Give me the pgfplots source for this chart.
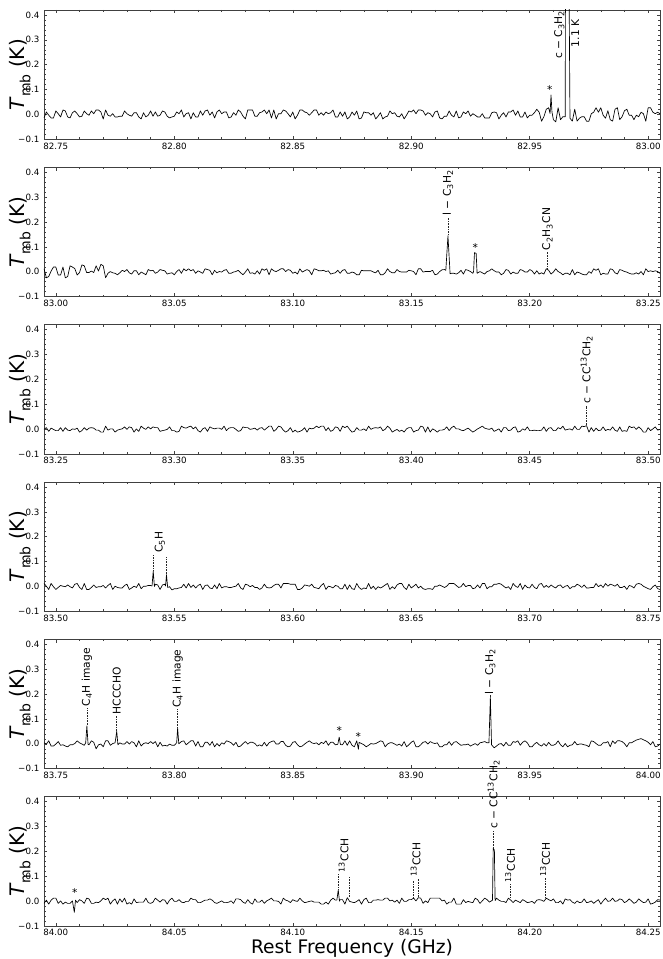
\documentclass[border=0pt]{standalone}
\usepackage{fontspec}
\setmainfont{DejaVu Sans}
\usepackage{pgfplots}
\pgfplotsset{compat=1.18}
\newcommand\lab{\fontsize{8}{9.6}\selectfont}
\tikzset{
  lbl/.style={rotate=90, anchor=west, inner sep=0pt, font=\lab},
  st/.style={inner sep=0pt, anchor=center, font=\lab},
  dl/.style={black!85, line width=0.4pt, dash pattern=on 0.5pt off 0.7pt},
}
\pgfplotsset{
  spec/.style={
    scale only axis, width=462pt, height=97pt, anchor=south west,
    ymin=-0.1, ymax=0.42,
    ytick={-0.1,0,0.1,0.2,0.3,0.4},
    yticklabels={−0.1,0.0,0.1,0.2,0.3,0.4},
    minor x tick num=4, minor y tick num=4,
    tick align=inside, tick pos=both,
    xticklabel pos=lower, yticklabel pos=left,
    major tick length=2.6pt, minor tick length=1.5pt,
    axis line style={black!75, line width=0.6pt},
    every tick/.style={black!75, line width=0.4pt},
    tick label style={font=\fontsize{6.5}{7.5}\selectfont},
    xticklabel style={yshift=1pt, /pgf/number format/.cd, fixed, fixed zerofill, precision=2, assume math mode=true},
    ylabel={\textit{T}\raisebox{-0.28em}{\fontsize{10.5}{12}\selectfont mb} (K)},
    every axis y label/.style={at={(axis description cs:-0.039,0.5)}, rotate=90, anchor=center, font=\fontsize{15}{18}\selectfont},
    clip mode=individual,
  },
  specline/.style={black, line width=0.5pt, line join=round},
}
\begin{document}
\begin{tikzpicture}
\useasboundingbox (-33pt,-614.75pt) rectangle (464.25pt,104.5pt);

% panel 1
\begin{axis}[spec, at={(0,0)}, xmin=82.745, xmax=83.005, xtick={82.75,82.80,82.85,82.90,82.95,83.00}]
\addplot[specline] coordinates {
(82.745,-0.014)(82.746,0.010)(82.747,-0.003)(82.748,-0.014)(82.749,-0.014)(82.750,0.014)(82.751,0.003)(82.752,-0.010)(82.753,0.018)(82.754,0.014)
(82.755,-0.010)(82.756,-0.014)(82.757,0.007)(82.758,0.014)(82.759,0.003)(82.760,-0.010)(82.761,-0.007)(82.762,0.014)(82.763,0.003)(82.764,-0.003)
(82.765,0.014)(82.766,0.003)(82.767,0.018)(82.768,0.018)(82.769,0.010)(82.770,-0.018)(82.771,0.018)(82.772,-0.003)(82.773,-0.007)(82.774,0.003)
(82.775,-0.010)(82.776,-0.010)(82.777,-0.007)(82.778,-0.007)(82.779,0.014)(82.780,0.003)(82.781,-0.003)(82.782,-0.007)(82.783,0.007)(82.784,0.007)
(82.785,-0.010)(82.786,-0.018)(82.787,0.007)(82.788,-0.010)(82.789,-0.003)(82.790,0.014)(82.791,-0.007)(82.792,0.010)(82.793,-0.007)(82.794,-0.003)
(82.795,0.014)(82.796,0.010)(82.797,-0.007)(82.798,-0.014)(82.799,-0.010)(82.800,-0.007)(82.801,0.010)(82.802,0.003)(82.803,0.018)(82.804,-0.010)
(82.805,0.003)(82.806,0.007)(82.807,-0.018)(82.808,0.007)(82.809,-0.010)(82.810,-0.010)(82.811,0.014)(82.812,-0.003)(82.813,0.014)(82.814,0.018)
(82.815,-0.003)(82.816,0.010)(82.817,-0.014)(82.818,0.010)(82.819,0.018)(82.820,0.003)(82.821,0.010)(82.822,0.010)(82.823,-0.014)(82.824,-0.010)
(82.825,0.007)(82.826,-0.003)(82.827,0.018)(82.828,0.010)(82.829,-0.007)(82.830,-0.018)(82.831,0.018)(82.832,0.018)(82.833,0.018)(82.834,-0.007)
(82.835,-0.007)(82.836,0.007)(82.837,0.010)(82.838,0.018)(82.839,0.003)(82.840,0.018)(82.841,-0.014)(82.842,0.018)(82.843,-0.018)(82.844,0.003)
(82.845,0.003)(82.846,0.018)(82.847,0.014)(82.848,0.003)(82.849,-0.010)(82.850,0.010)(82.851,-0.018)(82.852,-0.003)(82.853,0.018)(82.854,0.018)
(82.855,0.010)(82.856,0.007)(82.857,-0.003)(82.858,0.007)(82.859,0.018)(82.860,0.018)(82.861,-0.003)(82.862,0.007)(82.863,-0.003)(82.864,0.010)
(82.865,0.003)(82.866,0.007)(82.867,0.018)(82.868,-0.010)(82.869,-0.010)(82.870,0.010)(82.871,-0.007)(82.872,0.010)(82.873,-0.018)(82.874,-0.010)
(82.875,0.010)(82.876,-0.003)(82.877,0.014)(82.878,-0.018)(82.879,-0.014)(82.880,0.010)(82.881,0.007)(82.882,0.007)(82.883,-0.003)(82.884,0.007)
(82.885,-0.018)(82.886,-0.007)(82.887,0.007)(82.888,-0.018)(82.889,-0.010)(82.890,-0.007)(82.891,0.014)(82.892,0.003)(82.893,0.007)(82.894,-0.007)
(82.895,-0.010)(82.896,0.003)(82.897,-0.018)(82.898,-0.003)(82.899,0.014)(82.900,0.010)(82.901,0.018)(82.902,0.003)(82.903,0.018)(82.904,0.018)
(82.905,0.014)(82.906,-0.003)(82.907,0.007)(82.908,0.003)(82.909,-0.010)(82.910,0.010)(82.911,0.014)(82.912,-0.014)(82.913,-0.018)(82.914,-0.007)
(82.915,-0.007)(82.916,0.014)(82.917,-0.003)(82.918,-0.010)(82.919,0.014)(82.920,-0.014)(82.921,-0.010)(82.922,0.010)(82.923,0.003)(82.924,0.014)
(82.925,-0.007)(82.926,0.003)(82.927,-0.003)(82.928,-0.010)(82.929,-0.010)(82.930,0.003)(82.931,-0.014)(82.932,-0.014)(82.933,-0.014)(82.934,0.007)
(82.935,0.010)(82.936,0.007)(82.937,-0.018)(82.938,-0.003)(82.939,0.007)(82.940,-0.010)(82.941,0.010)(82.942,0.010)(82.943,0.018)(82.944,-0.003)
(82.945,0.014)(82.946,-0.010)(82.947,-0.010)(82.948,0.010)(82.949,-0.014)(82.950,-0.003)(82.951,-0.003)(82.952,0.007)(82.953,0.021)(82.954,0.009)
(82.955,-0.027)(82.956,-0.009)(82.957,0.021)(82.958,0.027)(82.9586,0.004)(82.959,0.078)(82.9594,0.010)(82.960,-0.021)(82.961,-0.030)(82.962,0.027)
(82.963,-0.021)(82.964,-0.009)(82.965,-0.009)(82.9652,1.1)(82.9662,1.1)(82.967,-0.015)(82.968,-0.027)(82.969,0.021)(82.970,-0.027)(82.971,-0.015)
(82.972,-0.009)(82.973,-0.009)(82.974,-0.027)(82.975,-0.027)(82.976,0.003)(82.977,0.009)(82.978,0.027)(82.979,0.009)(82.980,0.027)(82.981,-0.003)
(82.982,-0.015)(82.983,0.015)(82.984,-0.021)(82.985,-0.027)(82.986,0.021)(82.987,0.027)(82.988,-0.021)(82.989,-0.009)(82.990,0.015)(82.991,0.021)
(82.992,-0.003)(82.993,-0.003)(82.994,-0.021)(82.995,-0.003)(82.996,-0.009)(82.997,0.009)(82.998,0.003)(82.999,-0.027)(83.000,0.027)(83.001,0.027)
(83.002,0.009)(83.003,0.003)(83.004,0.009)(83.005,0.003)
};
\node[st] at (axis cs:82.9585,0.10) {*};
\node[lbl] at (axis cs:82.9625,0.222) {c − C\textsubscript{3}H\textsubscript{2}};
\node[lbl] at (axis cs:82.9692,0.270) {1.1 K};
\end{axis}

% panel 2
\begin{axis}[spec, at={(0,-118pt)}, xmin=82.995, xmax=83.255, xtick={83.00,83.05,83.10,83.15,83.20,83.25}]
\addplot[specline] coordinates {
(82.995,0.013)(82.996,-0.024)(82.997,-0.019)(82.998,0.003)(82.999,0.019)(83.000,0.019)(83.001,-0.013)(83.002,-0.013)(83.003,0.019)(83.004,-0.024)
(83.005,-0.019)(83.006,0.024)(83.007,0.019)(83.008,0.013)(83.009,-0.013)(83.010,-0.003)(83.011,0.028)(83.012,0.024)(83.013,-0.003)(83.014,-0.003)
(83.015,0.003)(83.016,-0.003)(83.017,0.024)(83.018,0.003)(83.019,0.030)(83.020,0.024)(83.021,-0.024)(83.022,-0.006)(83.023,0.001)(83.024,-0.004)
(83.025,-0.006)(83.026,-0.012)(83.027,-0.004)(83.028,0.006)(83.029,0.001)(83.030,0.009)(83.031,-0.004)(83.032,-0.009)(83.033,0.004)(83.034,0.004)
(83.035,-0.012)(83.036,-0.001)(83.037,-0.006)(83.038,-0.012)(83.039,0.009)(83.040,0.004)(83.041,0.006)(83.042,-0.006)(83.043,-0.001)(83.044,0.009)
(83.045,0.006)(83.046,0.004)(83.047,-0.009)(83.048,-0.006)(83.049,-0.004)(83.050,-0.012)(83.051,0.001)(83.052,0.009)(83.053,-0.006)(83.054,0.012)
(83.055,0.004)(83.056,0.012)(83.057,0.004)(83.058,0.009)(83.059,-0.006)(83.060,0.004)(83.061,-0.001)(83.062,-0.006)(83.063,0.012)(83.064,0.009)
(83.065,0.006)(83.066,-0.012)(83.067,0.006)(83.068,-0.004)(83.069,0.001)(83.070,-0.001)(83.071,0.006)(83.072,0.009)(83.073,-0.006)(83.074,-0.006)
(83.075,-0.001)(83.076,0.001)(83.077,0.006)(83.078,-0.004)(83.079,-0.012)(83.080,-0.001)(83.081,0.012)(83.082,-0.006)(83.083,-0.004)(83.084,-0.009)
(83.085,0.004)(83.086,-0.009)(83.087,0.012)(83.088,0.006)(83.089,0.012)(83.090,-0.012)(83.091,0.012)(83.092,0.004)(83.093,0.001)(83.094,0.006)
(83.095,0.012)(83.096,0.012)(83.097,0.001)(83.098,0.009)(83.099,0.006)(83.100,-0.006)(83.101,-0.001)(83.102,-0.009)(83.103,0.012)(83.104,-0.001)
(83.105,0.004)(83.106,0.009)(83.107,0.004)(83.108,-0.012)(83.109,0.012)(83.110,0.009)(83.111,0.004)(83.112,0.004)(83.113,0.006)(83.114,0.001)
(83.115,0.004)(83.116,-0.009)(83.117,-0.006)(83.118,-0.004)(83.119,0.006)(83.120,-0.006)(83.121,0.006)(83.122,0.009)(83.123,-0.006)(83.124,-0.006)
(83.125,-0.001)(83.126,-0.004)(83.127,-0.012)(83.128,-0.012)(83.129,0.006)(83.130,0.004)(83.131,0.004)(83.132,0.004)(83.133,0.004)(83.134,-0.001)
(83.135,-0.004)(83.136,0.006)(83.137,-0.012)(83.138,-0.012)(83.139,-0.004)(83.140,0.012)(83.141,0.001)(83.142,-0.004)(83.143,-0.004)(83.144,0.009)
(83.145,0.001)(83.146,-0.001)(83.147,-0.001)(83.148,-0.001)(83.149,0.006)(83.150,0.004)(83.151,0.001)(83.152,-0.012)(83.153,0.012)(83.154,0.012)
(83.155,-0.001)(83.156,0.001)(83.157,0.001)(83.158,0.001)(83.159,0.006)(83.160,-0.012)(83.161,-0.009)(83.162,0.001)(83.163,0.008)(83.164,0.009)
(83.1646,0.006)(83.1655,0.145)(83.1664,-0.008)(83.167,-0.006)(83.168,-0.006)(83.169,-0.009)(83.170,-0.004)(83.171,0.006)(83.172,-0.009)(83.173,0.009)
(83.174,0.006)(83.175,0.001)(83.176,-0.006)(83.1763,0.000)(83.1767,0.077)(83.1774,0.074)(83.1778,-0.006)(83.179,0.001)(83.180,-0.004)(83.181,-0.009)
(83.182,0.001)(83.183,0.004)(83.184,0.012)(83.185,0.004)(83.186,-0.001)(83.187,-0.001)(83.188,-0.012)(83.189,-0.006)(83.190,0.009)(83.191,0.006)
(83.192,-0.009)(83.193,-0.001)(83.194,-0.006)(83.195,-0.006)(83.196,0.009)(83.197,0.006)(83.198,-0.001)(83.199,-0.001)(83.200,0.009)(83.201,0.004)
(83.202,-0.009)(83.203,0.004)(83.204,-0.009)(83.205,-0.004)(83.206,-0.009)(83.207,0.012)(83.208,0.006)(83.209,-0.009)(83.210,-0.001)(83.211,0.012)
(83.212,0.001)(83.213,-0.004)(83.214,-0.012)(83.215,-0.006)(83.216,-0.006)(83.217,-0.012)(83.218,0.009)(83.219,-0.012)(83.220,-0.001)(83.221,-0.004)
(83.222,-0.009)(83.223,-0.012)(83.224,-0.012)(83.225,0.001)(83.226,-0.006)(83.227,0.012)(83.228,0.006)(83.229,0.012)(83.230,-0.012)(83.231,-0.006)
(83.232,-0.009)(83.233,-0.009)(83.234,0.012)(83.235,0.009)(83.236,-0.004)(83.237,-0.009)(83.238,0.009)(83.239,0.006)(83.240,0.001)(83.241,-0.001)
(83.242,-0.006)(83.243,-0.009)(83.244,-0.009)(83.245,-0.004)(83.246,-0.009)(83.247,0.001)(83.248,-0.012)(83.249,0.012)(83.250,0.001)(83.251,0.004)
(83.252,0.001)(83.253,0.004)(83.254,0.001)(83.255,-0.006)
};
\draw[dl] (axis cs:83.1655,0.15) -- (axis cs:83.1655,0.22);
\node[lbl] at (axis cs:83.1655,0.225) {l − C\textsubscript{3}H\textsubscript{2}};
\node[st] at (axis cs:83.177,0.097) {*};
\draw[dl] (axis cs:83.2075,0.014) -- (axis cs:83.2075,0.08);
\node[lbl] at (axis cs:83.2075,0.085) {C\textsubscript{2}H\textsubscript{3}CN};
\end{axis}

% panel 3
\begin{axis}[spec, at={(0,-236pt)}, xmin=83.245, xmax=83.505, xtick={83.25,83.30,83.35,83.40,83.45,83.50}]
\addplot[specline] coordinates {
(83.245,-0.001)(83.246,0.006)(83.247,-0.009)(83.248,0.004)(83.249,-0.001)(83.250,-0.006)(83.251,-0.006)(83.252,0.006)(83.253,-0.009)(83.254,0.006)
(83.255,-0.004)(83.256,-0.006)(83.257,0.001)(83.258,-0.001)(83.259,0.004)(83.260,-0.012)(83.261,-0.006)(83.262,0.006)(83.263,-0.004)(83.264,0.004)
(83.265,0.006)(83.266,0.004)(83.267,-0.004)(83.268,-0.004)(83.269,-0.012)(83.270,-0.012)(83.271,0.012)(83.272,-0.004)(83.273,0.001)(83.274,0.001)
(83.275,-0.012)(83.276,-0.004)(83.277,-0.001)(83.278,0.001)(83.279,0.009)(83.280,-0.001)(83.281,0.009)(83.282,0.006)(83.283,-0.012)(83.284,0.001)
(83.285,-0.009)(83.286,0.012)(83.287,0.004)(83.288,-0.001)(83.289,0.009)(83.290,0.001)(83.291,0.009)(83.292,0.006)(83.293,0.006)(83.294,-0.009)
(83.295,-0.006)(83.296,-0.004)(83.297,-0.001)(83.298,0.009)(83.299,-0.006)(83.300,-0.006)(83.301,-0.012)(83.302,-0.009)(83.303,0.012)(83.304,0.006)
(83.305,0.004)(83.306,0.009)(83.307,0.012)(83.308,0.001)(83.309,0.009)(83.310,-0.006)(83.311,-0.012)(83.312,0.001)(83.313,0.006)(83.314,-0.009)
(83.315,0.009)(83.316,0.004)(83.317,0.001)(83.318,0.004)(83.319,0.004)(83.320,-0.001)(83.321,0.012)(83.322,-0.006)(83.323,0.004)(83.324,0.006)
(83.325,0.006)(83.326,-0.001)(83.327,-0.009)(83.328,-0.006)(83.329,0.009)(83.330,0.006)(83.331,0.006)(83.332,-0.001)(83.333,0.001)(83.334,0.004)
(83.335,-0.004)(83.336,0.004)(83.337,0.006)(83.338,-0.004)(83.339,0.004)(83.340,0.012)(83.341,0.012)(83.342,-0.009)(83.343,-0.001)(83.344,0.012)
(83.345,0.009)(83.346,-0.004)(83.347,-0.012)(83.348,-0.006)(83.349,0.006)(83.350,-0.012)(83.351,-0.004)(83.352,-0.012)(83.353,-0.009)(83.354,-0.004)
(83.355,0.006)(83.356,-0.012)(83.357,0.004)(83.358,0.001)(83.359,0.004)(83.360,0.012)(83.361,0.006)(83.362,0.012)(83.363,0.012)(83.364,-0.006)
(83.365,0.006)(83.366,-0.009)(83.367,-0.004)(83.368,0.009)(83.369,0.006)(83.370,-0.009)(83.371,0.012)(83.372,0.006)(83.373,0.012)(83.374,-0.001)
(83.375,-0.012)(83.376,-0.009)(83.377,0.006)(83.378,-0.004)(83.379,-0.004)(83.380,0.001)(83.381,-0.006)(83.382,0.012)(83.383,-0.001)(83.384,0.004)
(83.385,0.006)(83.386,0.004)(83.387,0.009)(83.388,-0.006)(83.389,-0.001)(83.390,0.012)(83.391,0.004)(83.392,-0.012)(83.393,-0.006)(83.394,-0.001)
(83.395,-0.009)(83.396,-0.004)(83.397,-0.012)(83.398,0.001)(83.399,0.006)(83.400,0.006)(83.401,-0.012)(83.402,-0.006)(83.403,-0.004)(83.404,0.012)
(83.405,0.009)(83.406,-0.012)(83.407,0.009)(83.408,-0.012)(83.409,0.001)(83.410,-0.004)(83.411,-0.012)(83.412,-0.004)(83.413,-0.004)(83.414,-0.001)
(83.415,0.009)(83.416,-0.006)(83.417,0.006)(83.418,0.012)(83.419,0.001)(83.420,0.001)(83.421,-0.004)(83.422,-0.006)(83.423,-0.001)(83.424,0.004)
(83.425,-0.004)(83.426,-0.012)(83.427,-0.006)(83.428,0.001)(83.429,0.006)(83.430,0.012)(83.431,0.004)(83.432,0.001)(83.433,-0.001)(83.434,0.004)
(83.435,-0.009)(83.436,-0.004)(83.437,0.001)(83.438,-0.012)(83.439,0.006)(83.440,0.006)(83.441,-0.006)(83.442,-0.004)(83.443,0.006)(83.444,0.009)
(83.445,-0.012)(83.446,-0.009)(83.447,0.001)(83.448,-0.004)(83.449,0.009)(83.450,-0.006)(83.451,-0.006)(83.452,-0.004)(83.453,-0.006)(83.454,-0.006)
(83.455,-0.004)(83.456,0.009)(83.457,-0.009)(83.458,0.004)(83.459,0.006)(83.460,-0.006)(83.461,-0.006)(83.462,0.006)(83.463,0.001)(83.464,0.012)
(83.465,-0.004)(83.466,-0.001)(83.467,0.001)(83.468,-0.004)(83.469,0.012)(83.470,-0.001)(83.471,-0.001)(83.472,0.012)(83.473,0.010)(83.474,0.014)
(83.475,-0.012)(83.476,0.006)(83.477,-0.009)(83.478,0.004)(83.479,-0.006)(83.480,-0.004)(83.481,0.009)(83.482,-0.006)(83.483,-0.001)(83.484,-0.004)
(83.485,0.009)(83.486,-0.004)(83.487,-0.009)(83.488,0.009)(83.489,-0.009)(83.490,-0.006)(83.491,-0.009)(83.492,0.012)(83.493,0.006)(83.494,0.009)
(83.495,-0.001)(83.496,0.009)(83.497,0.001)(83.498,-0.012)(83.499,-0.012)(83.500,0.006)(83.501,-0.006)(83.502,0.001)(83.503,0.009)(83.504,-0.004)
(83.505,-0.001)
};
\draw[dl] (axis cs:83.474,0.016) -- (axis cs:83.474,0.094);
\node[lbl] at (axis cs:83.474,0.10) {c − CC\textsuperscript{13}CH\textsubscript{2}};
\end{axis}

% panel 4
\begin{axis}[spec, at={(0,-354pt)}, xmin=83.495, xmax=83.755, xtick={83.50,83.55,83.60,83.65,83.70,83.75}]
\addplot[specline] coordinates {
(83.495,0.012)(83.496,0.001)(83.497,-0.012)(83.498,0.012)(83.499,-0.001)(83.500,-0.012)(83.501,-0.004)(83.502,0.004)(83.503,0.001)(83.504,-0.001)
(83.505,0.006)(83.506,-0.001)(83.507,-0.006)(83.508,0.009)(83.509,0.012)(83.510,-0.004)(83.511,-0.012)(83.512,0.012)(83.513,-0.012)(83.514,-0.012)
(83.515,-0.004)(83.516,0.006)(83.517,-0.004)(83.518,-0.001)(83.519,-0.001)(83.520,0.004)(83.521,-0.006)(83.522,0.004)(83.523,0.012)(83.524,-0.012)
(83.525,0.001)(83.526,-0.004)(83.527,-0.006)(83.528,-0.006)(83.529,0.004)(83.530,0.009)(83.531,-0.012)(83.532,-0.006)(83.533,0.001)(83.534,-0.004)
(83.535,0.012)(83.536,-0.009)(83.537,0.001)(83.538,0.001)(83.539,0.004)(83.540,0.004)(83.5406,0.002)(83.5411,0.062)(83.5416,0.000)(83.542,0.009)
(83.543,0.006)(83.544,-0.012)(83.545,0.006)(83.546,0.009)(83.5463,0.002)(83.5467,0.047)(83.5472,-0.004)(83.548,-0.001)(83.549,-0.014)(83.550,-0.009)
(83.551,-0.009)(83.552,-0.006)(83.553,-0.004)(83.554,0.009)(83.555,-0.006)(83.556,0.012)(83.557,-0.004)(83.558,0.006)(83.559,-0.006)(83.560,0.004)
(83.561,0.009)(83.562,-0.012)(83.563,0.004)(83.564,0.006)(83.565,-0.006)(83.566,-0.009)(83.567,0.006)(83.568,-0.009)(83.569,0.012)(83.570,-0.006)
(83.571,-0.001)(83.572,-0.001)(83.573,-0.004)(83.574,-0.004)(83.575,-0.001)(83.576,0.001)(83.577,0.012)(83.578,-0.006)(83.579,-0.012)(83.580,0.009)
(83.581,0.006)(83.582,-0.001)(83.583,0.004)(83.584,-0.004)(83.585,-0.004)(83.586,-0.012)(83.587,-0.006)(83.588,0.009)(83.589,-0.004)(83.590,-0.006)
(83.591,-0.004)(83.592,0.004)(83.593,0.009)(83.594,0.009)(83.595,-0.006)(83.596,0.012)(83.597,0.012)(83.598,0.012)(83.599,0.009)(83.600,0.009)
(83.601,0.009)(83.602,-0.012)(83.603,-0.012)(83.604,-0.006)(83.605,0.006)(83.606,0.004)(83.607,0.001)(83.608,0.009)(83.609,-0.004)(83.610,-0.006)
(83.611,-0.009)(83.612,0.004)(83.613,0.012)(83.614,-0.012)(83.615,0.001)(83.616,-0.001)(83.617,-0.006)(83.618,0.004)(83.619,0.001)(83.620,-0.009)
(83.621,-0.009)(83.622,0.009)(83.623,-0.012)(83.624,0.006)(83.625,-0.009)(83.626,-0.012)(83.627,0.012)(83.628,-0.004)(83.629,-0.012)(83.630,-0.006)
(83.631,-0.009)(83.632,0.012)(83.633,-0.009)(83.634,0.001)(83.635,-0.012)(83.636,-0.001)(83.637,-0.006)(83.638,-0.001)(83.639,0.006)(83.640,0.012)
(83.641,-0.012)(83.642,-0.001)(83.643,-0.009)(83.644,0.006)(83.645,0.012)(83.646,0.012)(83.647,-0.004)(83.648,-0.012)(83.649,0.009)(83.650,-0.006)
(83.651,0.001)(83.652,0.009)(83.653,-0.006)(83.654,0.001)(83.655,-0.009)(83.656,-0.012)(83.657,-0.009)(83.658,-0.009)(83.659,-0.012)(83.660,0.001)
(83.661,0.001)(83.662,0.006)(83.663,0.001)(83.664,-0.004)(83.665,0.001)(83.666,0.012)(83.667,0.012)(83.668,0.012)(83.669,0.004)(83.670,-0.004)
(83.671,-0.001)(83.672,0.012)(83.673,-0.001)(83.674,0.004)(83.675,0.004)(83.676,-0.009)(83.677,-0.006)(83.678,0.006)(83.679,-0.006)(83.680,0.012)
(83.681,0.012)(83.682,-0.009)(83.683,-0.001)(83.684,-0.001)(83.685,0.009)(83.686,0.009)(83.687,0.012)(83.688,0.009)(83.689,0.001)(83.690,-0.006)
(83.691,-0.001)(83.692,-0.012)(83.693,0.012)(83.694,0.001)(83.695,-0.004)(83.696,0.012)(83.697,-0.012)(83.698,0.006)(83.699,-0.004)(83.700,-0.006)
(83.701,0.009)(83.702,-0.004)(83.703,-0.009)(83.704,0.009)(83.705,0.012)(83.706,-0.004)(83.707,0.004)(83.708,-0.004)(83.709,0.006)(83.710,-0.001)
(83.711,-0.006)(83.712,0.004)(83.713,0.006)(83.714,-0.006)(83.715,0.001)(83.716,0.004)(83.717,-0.009)(83.718,-0.001)(83.719,-0.001)(83.720,0.009)
(83.721,0.004)(83.722,-0.004)(83.723,0.006)(83.724,-0.006)(83.725,-0.006)(83.726,-0.004)(83.727,-0.004)(83.728,0.012)(83.729,-0.001)(83.730,0.006)
(83.731,-0.004)(83.732,0.012)(83.733,0.001)(83.734,0.009)(83.735,0.006)(83.736,0.001)(83.737,0.009)(83.738,-0.004)(83.739,-0.004)(83.740,0.001)
(83.741,-0.012)(83.742,0.004)(83.743,0.001)(83.744,-0.006)(83.745,0.009)(83.746,0.012)(83.747,0.009)(83.748,0.001)(83.749,-0.004)(83.750,-0.009)
(83.751,-0.012)(83.752,-0.001)(83.753,0.006)(83.754,-0.009)(83.755,-0.012)
};
\draw[dl] (axis cs:83.5411,0.065) -- (axis cs:83.5411,0.126);
\draw[dl] (axis cs:83.5467,0.050) -- (axis cs:83.5467,0.117);
\node[lbl] at (axis cs:83.5439,0.135) {C\textsubscript{5}H};
\end{axis}

% panel 5
\begin{axis}[spec, at={(0,-472pt)}, xmin=83.745, xmax=84.005, xtick={83.75,83.80,83.85,83.90,83.95,84.00}]
\addplot[specline] coordinates {
(83.745,0.004)(83.746,-0.001)(83.747,0.012)(83.748,-0.009)(83.749,-0.009)(83.750,-0.001)(83.751,0.009)(83.752,-0.006)(83.753,-0.004)(83.754,-0.009)
(83.755,-0.012)(83.756,-0.004)(83.757,-0.004)(83.758,0.001)(83.759,0.012)(83.760,0.004)(83.761,-0.001)(83.762,-0.006)(83.7626,0.004)(83.7631,0.072)
(83.7636,-0.002)(83.764,-0.004)(83.765,0.012)(83.766,0.006)(83.767,-0.020)(83.768,-0.004)(83.769,-0.001)(83.770,-0.012)(83.771,0.012)(83.772,0.012)
(83.773,-0.006)(83.774,0.001)(83.775,0.004)(83.7757,0.050)(83.7762,-0.004)(83.777,0.004)(83.778,-0.001)(83.779,-0.001)(83.780,0.009)(83.781,-0.001)
(83.782,0.009)(83.783,0.004)(83.784,-0.012)(83.785,0.012)(83.786,-0.009)(83.787,0.001)(83.788,0.004)(83.789,0.001)(83.790,0.009)(83.791,0.001)
(83.792,0.009)(83.793,-0.012)(83.794,0.006)(83.795,-0.009)(83.796,-0.006)(83.797,-0.009)(83.798,-0.001)(83.799,-0.006)(83.800,-0.006)(83.8010,0.004)
(83.8014,0.063)(83.8019,0.000)(83.803,0.009)(83.804,0.012)(83.805,-0.004)(83.806,0.004)(83.807,0.012)(83.808,0.012)(83.809,-0.009)
(83.810,0.009)(83.811,-0.012)(83.812,-0.012)(83.813,0.006)(83.814,0.006)(83.815,-0.006)(83.816,0.009)(83.817,-0.012)(83.818,0.001)(83.819,-0.009)
(83.820,0.004)(83.821,-0.001)(83.822,0.012)(83.823,0.009)(83.824,0.004)(83.825,-0.006)(83.826,0.006)(83.827,-0.012)(83.828,-0.009)(83.829,0.001)
(83.830,0.009)(83.831,-0.001)(83.832,0.006)(83.833,0.006)(83.834,0.001)(83.835,-0.009)(83.836,-0.004)(83.837,-0.009)(83.838,0.006)(83.839,-0.009)
(83.840,0.004)(83.841,0.009)(83.842,0.012)(83.843,-0.001)(83.844,-0.001)(83.845,0.009)(83.846,0.009)(83.847,-0.006)(83.848,-0.012)(83.849,-0.009)
(83.850,0.006)(83.851,0.009)(83.852,-0.004)(83.853,-0.012)(83.854,-0.009)(83.855,-0.001)(83.856,0.006)(83.857,0.012)(83.858,0.004)(83.859,0.001)
(83.860,0.004)(83.861,-0.004)(83.862,0.006)(83.863,0.001)(83.864,0.012)(83.865,-0.006)(83.866,0.006)(83.867,0.006)(83.868,-0.004)(83.869,-0.002)
(83.8696,0.027)(83.8701,-0.003)(83.871,-0.004)(83.872,0.012)(83.873,-0.006)(83.874,0.012)(83.875,-0.006)(83.876,-0.012)(83.877,0.012)(83.8777,-0.022)
(83.878,0.006)(83.879,0.001)(83.880,-0.004)(83.881,-0.012)(83.882,-0.006)(83.883,0.001)(83.884,-0.001)(83.885,0.001)(83.886,0.006)(83.887,0.012)
(83.888,0.009)(83.889,-0.012)(83.890,-0.001)(83.891,0.004)(83.892,0.004)(83.893,-0.001)(83.894,-0.006)(83.895,-0.001)(83.896,-0.009)(83.897,0.009)
(83.898,-0.012)(83.899,-0.004)(83.900,0.006)(83.901,0.012)(83.902,-0.012)(83.903,-0.012)(83.904,-0.004)(83.905,0.006)(83.906,0.009)(83.907,-0.001)
(83.908,0.009)(83.909,0.004)(83.910,0.001)(83.911,0.004)(83.912,-0.012)(83.913,-0.012)(83.914,-0.004)(83.915,-0.004)(83.916,0.009)(83.917,-0.006)
(83.918,0.006)(83.919,0.009)(83.920,0.001)(83.921,-0.006)(83.922,-0.004)(83.923,-0.004)(83.924,-0.001)(83.925,-0.009)(83.926,-0.004)(83.927,0.001)
(83.928,-0.006)(83.929,0.004)(83.930,0.006)(83.931,0.009)(83.932,0.004)(83.9328,0.004)(83.9334,0.187)(83.9339,-0.004)(83.935,-0.016)(83.936,-0.009)
(83.937,-0.001)(83.938,0.001)(83.939,-0.009)(83.940,0.006)(83.941,-0.006)(83.942,-0.006)(83.943,0.009)(83.944,0.006)(83.945,0.012)(83.946,-0.006)
(83.947,0.006)(83.948,0.012)(83.949,0.004)(83.950,-0.012)(83.951,-0.012)(83.952,-0.001)(83.953,0.006)(83.954,-0.004)(83.955,-0.009)(83.956,0.001)
(83.957,-0.009)(83.958,0.006)(83.959,-0.006)(83.960,-0.006)(83.961,-0.001)(83.962,0.012)(83.963,-0.004)(83.964,-0.012)(83.965,0.001)(83.966,-0.012)
(83.967,-0.006)(83.968,-0.004)(83.969,0.009)(83.970,-0.004)(83.971,-0.001)(83.972,-0.001)(83.973,-0.004)(83.974,-0.006)(83.975,-0.012)(83.976,0.012)
(83.977,0.009)(83.978,0.001)(83.979,-0.006)(83.980,-0.006)(83.981,0.004)(83.982,0.004)(83.983,0.009)(83.984,-0.012)(83.985,0.012)(83.986,0.001)
(83.987,0.012)(83.988,0.012)(83.989,0.009)(83.990,0.001)(83.991,-0.012)(83.992,0.004)(83.993,0.004)(83.994,0.010)(83.995,0.015)(83.996,0.018)
(83.997,0.021)(83.998,0.016)(83.999,0.012)(84.000,0.006)(84.001,-0.004)(84.002,0.009)(84.003,-0.012)(84.004,-0.009)(84.005,-0.001)
};
\draw[dl] (axis cs:83.7631,0.075) -- (axis cs:83.7631,0.145);
\node[lbl] at (axis cs:83.7631,0.15) {C\textsubscript{4}H image};
\draw[dl] (axis cs:83.7757,0.052) -- (axis cs:83.7757,0.112);
\node[lbl] at (axis cs:83.7757,0.118) {HCCCHO};
\draw[dl] (axis cs:83.8014,0.065) -- (axis cs:83.8014,0.138);
\node[lbl] at (axis cs:83.8014,0.145) {C\textsubscript{4}H image};
\node[st] at (axis cs:83.8696,0.053) {*};
\node[st] at (axis cs:83.8777,0.030) {*};
\draw[dl] (axis cs:83.9334,0.188) -- (axis cs:83.9334,0.195);
\node[lbl] at (axis cs:83.9334,0.197) {l − C\textsubscript{3}H\textsubscript{2}};
\end{axis}

% panel 6
\begin{axis}[spec, at={(0,-590pt)}, xmin=83.995, xmax=84.255, xtick={84.00,84.05,84.10,84.15,84.20,84.25},
  xlabel={Rest Frequency (GHz)},
  every axis x label/.style={at={(axis description cs:0.5,-0.175)}, anchor=center, font=\fontsize{14}{17}\selectfont}]
\addplot[specline] coordinates {
(83.995,-0.009)(83.996,0.004)(83.997,-0.012)(83.998,0.004)(83.999,0.012)(84.000,0.012)(84.001,-0.009)(84.002,0.001)(84.003,-0.012)(84.004,-0.004)
(84.005,-0.009)(84.006,-0.009)(84.007,0.001)(84.0078,-0.045)(84.0083,0.004)(84.009,-0.006)(84.010,0.006)(84.011,0.001)(84.012,-0.009)(84.013,0.012)
(84.014,0.009)(84.015,-0.009)(84.016,-0.009)(84.017,-0.004)(84.018,-0.006)(84.019,0.001)(84.020,0.012)(84.021,0.006)(84.022,0.012)(84.023,-0.012)
(84.024,0.001)(84.025,0.009)(84.026,-0.012)(84.027,0.009)(84.028,-0.004)(84.029,0.012)(84.030,-0.012)(84.031,-0.006)(84.032,-0.012)(84.033,0.009)
(84.034,-0.006)(84.035,-0.004)(84.036,-0.004)(84.037,-0.004)(84.038,0.012)(84.039,-0.006)(84.040,-0.009)(84.041,-0.004)(84.042,0.012)(84.043,0.004)
(84.044,-0.004)(84.045,0.006)(84.046,0.004)(84.047,-0.012)(84.048,0.004)(84.049,0.012)(84.050,-0.001)(84.051,-0.001)(84.052,0.006)(84.053,-0.004)
(84.054,-0.006)(84.055,-0.001)(84.056,-0.001)(84.057,0.012)(84.058,0.006)(84.059,0.006)(84.060,-0.006)(84.061,-0.006)(84.062,-0.001)(84.063,0.004)
(84.064,0.004)(84.065,0.009)(84.066,0.004)(84.067,-0.006)(84.068,-0.009)(84.069,-0.004)(84.070,0.001)(84.071,-0.006)(84.072,-0.006)(84.073,-0.004)
(84.074,0.001)(84.075,-0.009)(84.076,0.009)(84.077,0.009)(84.078,0.006)(84.079,-0.004)(84.080,-0.009)(84.081,0.006)(84.082,-0.006)(84.083,-0.012)
(84.084,0.009)(84.085,-0.004)(84.086,-0.004)(84.087,0.004)(84.088,-0.009)(84.089,0.001)(84.090,0.006)(84.091,0.012)(84.092,0.001)(84.093,0.001)
(84.094,-0.001)(84.095,-0.012)(84.096,0.012)(84.097,0.004)(84.098,0.001)(84.099,-0.006)(84.100,0.006)(84.101,0.001)(84.102,-0.001)(84.103,0.012)
(84.104,0.001)(84.105,-0.006)(84.106,-0.004)(84.107,-0.001)(84.108,0.001)(84.109,-0.004)(84.110,-0.004)(84.111,-0.004)(84.112,-0.012)(84.113,-0.012)
(84.114,-0.004)(84.115,-0.012)(84.116,0.004)(84.117,0.012)(84.118,0.004)(84.1186,0.004)(84.1192,0.045)(84.1197,0.000)(84.120,0.006)(84.121,0.006)
(84.122,-0.012)(84.123,0.014)(84.124,-0.001)(84.125,-0.004)(84.126,-0.006)(84.127,-0.001)(84.128,0.006)(84.129,-0.012)(84.130,0.006)(84.131,0.012)
(84.132,-0.006)(84.133,-0.006)(84.134,0.004)(84.135,0.004)(84.136,0.006)(84.137,0.004)(84.138,0.004)(84.139,0.012)(84.140,0.012)(84.141,0.001)
(84.142,0.004)(84.143,-0.004)(84.144,0.004)(84.145,-0.009)(84.146,0.012)(84.147,-0.001)(84.148,-0.001)(84.149,0.006)(84.150,0.006)(84.151,0.012)
(84.152,0.001)(84.153,0.014)(84.154,0.012)(84.155,-0.009)(84.156,0.001)(84.157,-0.006)(84.158,0.012)(84.159,0.012)(84.160,0.012)(84.161,0.012)
(84.162,0.012)(84.163,0.001)(84.164,0.004)(84.165,-0.012)(84.166,-0.004)(84.167,-0.004)(84.168,0.012)(84.169,-0.012)(84.170,-0.012)(84.171,-0.012)
(84.172,0.006)(84.173,-0.006)(84.174,-0.001)(84.175,-0.004)(84.176,-0.006)(84.177,0.012)(84.178,0.006)(84.179,-0.009)(84.180,0.001)(84.181,0.012)
(84.182,0.006)(84.183,-0.004)(84.1843,0.004)(84.1846,0.213)(84.1851,0.205)(84.1854,0.002)(84.186,0.012)(84.187,0.004)
(84.188,-0.001)(84.189,-0.001)(84.190,-0.006)(84.191,0.012)(84.192,0.004)(84.193,-0.006)(84.194,0.004)(84.195,-0.001)(84.196,-0.006)(84.197,0.006)
(84.198,0.001)(84.199,-0.006)(84.200,-0.004)(84.201,-0.001)(84.202,-0.009)(84.203,0.004)(84.204,0.006)(84.205,0.004)(84.206,-0.001)(84.207,0.012)
(84.208,0.006)(84.209,0.001)(84.210,0.009)(84.211,-0.006)(84.212,-0.006)(84.213,0.001)(84.214,-0.012)(84.215,0.009)(84.216,0.004)(84.217,0.006)
(84.218,-0.004)(84.219,-0.009)(84.220,0.001)(84.221,-0.006)(84.222,-0.004)(84.223,0.009)(84.224,-0.006)(84.225,-0.004)(84.226,0.001)(84.227,-0.009)
(84.228,-0.001)(84.229,0.006)(84.230,-0.012)(84.231,0.001)(84.232,0.012)(84.233,-0.001)(84.234,0.001)(84.235,0.012)(84.236,-0.001)(84.237,0.001)
(84.238,0.009)(84.239,0.006)(84.240,-0.006)(84.241,-0.001)(84.242,0.009)(84.243,0.001)(84.244,-0.009)(84.245,-0.004)(84.246,0.009)(84.247,0.001)
(84.248,-0.006)(84.249,-0.004)(84.250,0.009)(84.251,-0.012)(84.252,-0.009)(84.253,-0.004)(84.254,0.006)(84.255,0.004)
};
\node[st] at (axis cs:84.008,0.034) {*};
\draw[dl] (axis cs:84.1192,0.048) -- (axis cs:84.1192,0.11);
\draw[dl] (axis cs:84.1238,0.017) -- (axis cs:84.1238,0.10);
\node[lbl] at (axis cs:84.1215,0.115) {\textsuperscript{13}CCH};
\draw[dl] (axis cs:84.1508,0.015) -- (axis cs:84.1508,0.08);
\draw[dl] (axis cs:84.1528,0.017) -- (axis cs:84.1528,0.093);
\node[lbl] at (axis cs:84.1518,0.098) {\textsuperscript{13}CCH};
\draw[dl] (axis cs:84.1848,0.215) -- (axis cs:84.1848,0.285);
\node[lbl] at (axis cs:84.1848,0.29) {c − CC\textsuperscript{13}CH\textsubscript{2}};
\draw[dl] (axis cs:84.1917,0.014) -- (axis cs:84.1917,0.07);
\node[lbl] at (axis cs:84.1917,0.075) {\textsuperscript{13}CCH};
\draw[dl] (axis cs:84.2065,0.014) -- (axis cs:84.2065,0.093);
\node[lbl] at (axis cs:84.2065,0.098) {\textsuperscript{13}CCH};
\end{axis}
\end{tikzpicture}
\end{document}
